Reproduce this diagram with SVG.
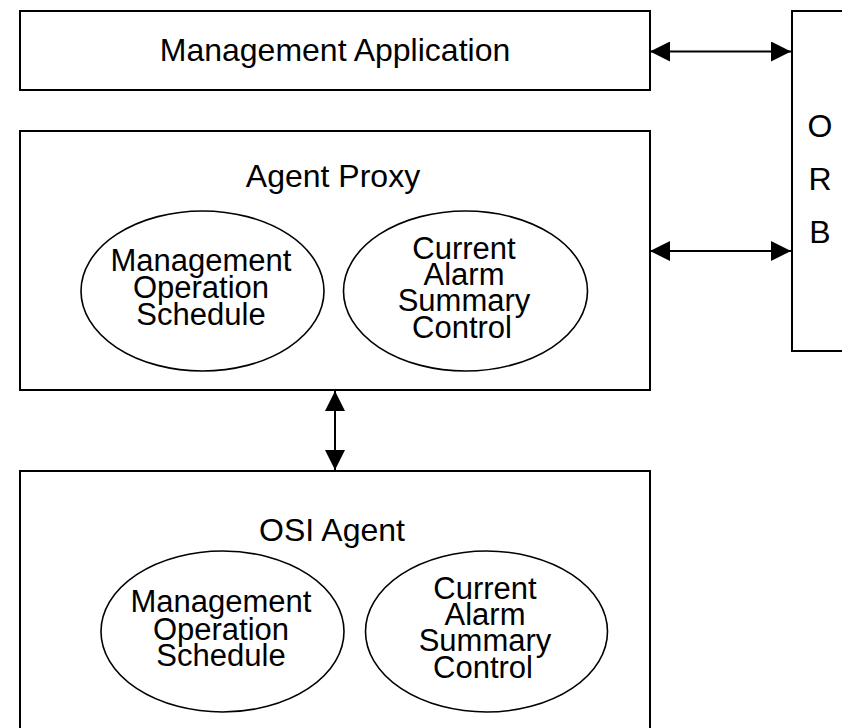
<svg xmlns="http://www.w3.org/2000/svg" width="842" height="728" viewBox="0 0 842 728">
<style>
.box{fill:#fff;stroke:#000;stroke-width:2}
.ell{fill:#fff;stroke:#000;stroke-width:1.6}
.t{font-family:"Liberation Sans",Arial,sans-serif;fill:#000;text-anchor:middle}
.title{font-size:32px}
.et{font-size:31px}
.conn{stroke:#000;stroke-width:2;fill:none;marker-start:url(#ah);marker-end:url(#ah)}
</style>
<defs>
<marker id="ah" viewBox="0 0 20 20" refX="20" refY="10" markerWidth="20" markerHeight="20" orient="auto-start-reverse" markerUnits="userSpaceOnUse">
<path d="M0,0 L20,10 L0,20 z" fill="#000"/>
</marker>
</defs>
<rect width="842" height="728" fill="#fff"/>
<g id="management-application">
<rect class="box" x="20" y="11" width="630" height="79"/>
<text class="t title" x="335" y="61">Management Application</text>
</g>
<g id="orb">
<rect class="box" x="792" y="11" width="100" height="340"/>
<text class="t title" x="820" y="137">O</text>
<text class="t title" x="820" y="190">R</text>
<text class="t title" x="820" y="243">B</text>
</g>
<g id="agent-proxy">
<rect class="box" x="20" y="131" width="630" height="259"/>
<text class="t title" x="333" y="187">Agent Proxy</text>
<g id="ap-mos">
<ellipse class="ell" cx="202.5" cy="291" rx="121.5" ry="80"/>
<text class="t et" x="201" y="271">Management</text>
<text class="t et" x="201" y="297.5">Operation</text>
<text class="t et" x="201" y="325">Schedule</text>
</g>
<g id="ap-casc">
<ellipse class="ell" cx="465.5" cy="291" rx="122" ry="80"/>
<text class="t et" x="464" y="259">Current</text>
<text class="t et" x="464" y="285">Alarm</text>
<text class="t et" x="464" y="311">Summary</text>
<text class="t et" x="462" y="338">Control</text>
</g>
</g>
<g id="osi-agent">
<rect class="box" x="20" y="471" width="630" height="280"/>
<text class="t title" x="332" y="541">OSI Agent</text>
<g id="osi-mos">
<ellipse class="ell" cx="222.5" cy="631.5" rx="121.5" ry="80.5"/>
<text class="t et" x="221" y="612">Management</text>
<text class="t et" x="221" y="639.5">Operation</text>
<text class="t et" x="221" y="666">Schedule</text>
</g>
<g id="osi-casc">
<ellipse class="ell" cx="486.5" cy="631.5" rx="121" ry="80.5"/>
<text class="t et" x="485" y="599">Current</text>
<text class="t et" x="485" y="625">Alarm</text>
<text class="t et" x="485" y="651">Summary</text>
<text class="t et" x="483" y="678">Control</text>
</g>
</g>
<g id="connectors">
<line class="conn" x1="650" y1="51.5" x2="791" y2="51.5"/>
<line class="conn" x1="650" y1="251" x2="791" y2="251"/>
<line class="conn" x1="335" y1="391" x2="335" y2="470"/>
</g>
</svg>
